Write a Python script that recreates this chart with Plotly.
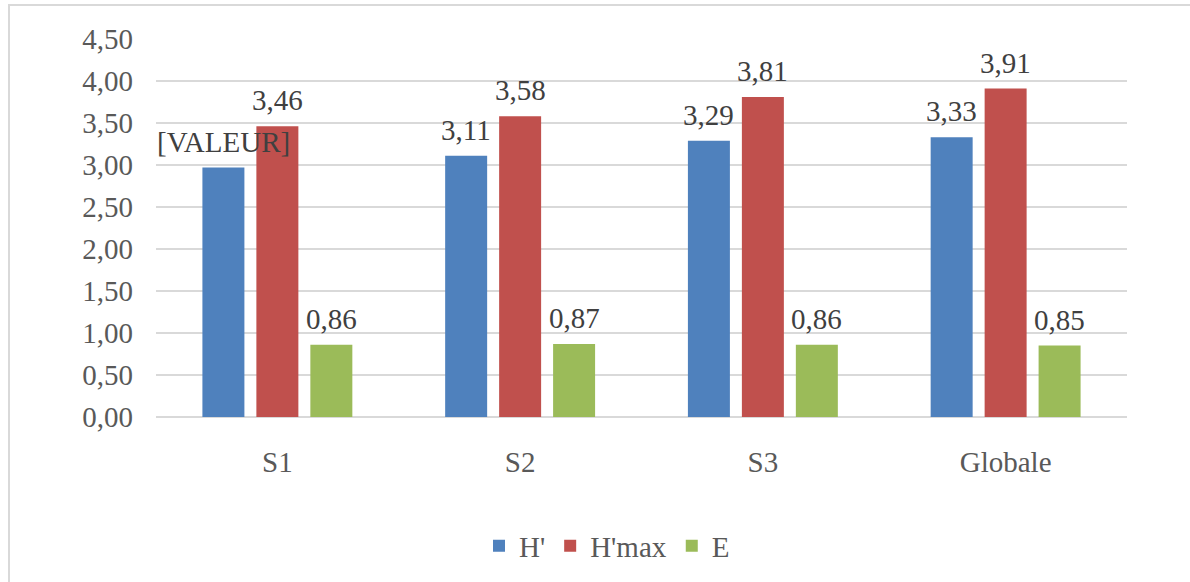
import plotly.graph_objects as go

# Diversity indices per station
categories = ["S1", "S2", "S3", "Globale"]
series_names = ["H'", "H'max", "E"]
h_prime = [2.97, 3.11, 3.29, 3.33]
h_max = [3.46, 3.58, 3.81, 3.91]
evenness = [0.86, 0.87, 0.86, 0.85]
# Label shown over each bar (first H' label keeps its placeholder text)
h_prime_labels = ["[VALEUR]", "3,11", "3,29", "3,33"]
h_max_labels = ["3,46", "3,58", "3,81", "3,91"]
evenness_labels = ["0,86", "0,87", "0,86", "0,85"]
y_ticks = [0, 0.5, 1, 1.5, 2, 2.5, 3, 3.5, 4, 4.5]
y_tick_text = ["0,00", "0,50", "1,00", "1,50", "2,00", "2,50", "3,00", "3,50", "4,00", "4,50"]

colors = ["#4F81BD", "#C0504D", "#9BBB59"]
FONT = "'Liberation Serif', 'Times New Roman', serif"
FS = 29
W, H = 1190, 582
ML, MR, MT, MB = 156, 63, 39, 164
BARGAP = 0.333
BARGROUPGAP = 0.222

series = [h_prime, h_max, evenness]
labels = [h_prime_labels, h_max_labels, evenness_labels]
xpos = list(range(len(categories)))

fig = go.Figure()
for name, vals, col in zip(series_names, series, colors):
    fig.add_trace(go.Bar(
        name=name, x=xpos, y=vals, marker=dict(color=col, line=dict(width=0)),
        hoverinfo="skip",
    ))

# value labels above each bar, placed at the bar's own slot within its group
slot = (1 - BARGAP) / len(series)
annotations = []
for j, (vals, labs) in enumerate(zip(series, labels)):
    for i, (v, t) in enumerate(zip(vals, labs)):
        annotations.append(dict(
            x=i + (j - (len(series) - 1) / 2) * slot, y=v, xref="x", yref="y",
            text=t, showarrow=False, yanchor="bottom", yshift=8,
            font=dict(family=FONT, size=FS, color="#404040"),
        ))

pw = W - ML - MR
ph = H - MT - MB
# outer chart frame (left and top edges fall inside the canvas)
frame = dict(
    type="rect", xref="paper", yref="paper",
    x0=(9 - ML) / pw, x1=(W + 20 - ML) / pw,
    y0=-(MB + 20) / ph, y1=1 + (MT - 5) / ph,
    line=dict(color="#d9d9d9", width=2), fillcolor="rgba(0,0,0,0)", layer="below",
)

fig.update_layout(
    width=W, height=H,
    margin=dict(l=ML, r=MR, t=MT, b=MB),
    paper_bgcolor="white", plot_bgcolor="white",
    barmode="group", bargap=BARGAP, bargroupgap=BARGROUPGAP,
    font=dict(family=FONT, size=FS, color="#595959"),
    xaxis=dict(
        tickmode="array", tickvals=xpos, ticktext=categories,
        range=[-0.5, len(categories) - 0.5],
        showgrid=False, zeroline=False, showline=False, ticks="",
        ticklabelstandoff=25,
        tickfont=dict(family=FONT, size=FS, color="#595959"),
    ),
    yaxis=dict(
        range=[0, 4.5], tickmode="array", tickvals=y_ticks, ticktext=y_tick_text,
        showgrid=True, gridcolor="#d9d9d9", gridwidth=1.5,
        zeroline=True, zerolinecolor="#d9d9d9", zerolinewidth=1.5,
        showline=False, ticks="", ticklabelstandoff=22,
        tickfont=dict(family=FONT, size=FS, color="#595959"),
    ),
    legend=dict(
        orientation="h", x=(607 - ML) / pw, xanchor="center",
        y=-(546 - (H - MB)) / ph, yanchor="middle",
        font=dict(family=FONT, size=FS, color="#595959"),
        itemwidth=30, bgcolor="rgba(0,0,0,0)",
    ),
    showlegend=True,
    annotations=annotations,
    shapes=[frame],
)

fig.write_html("out.html")
